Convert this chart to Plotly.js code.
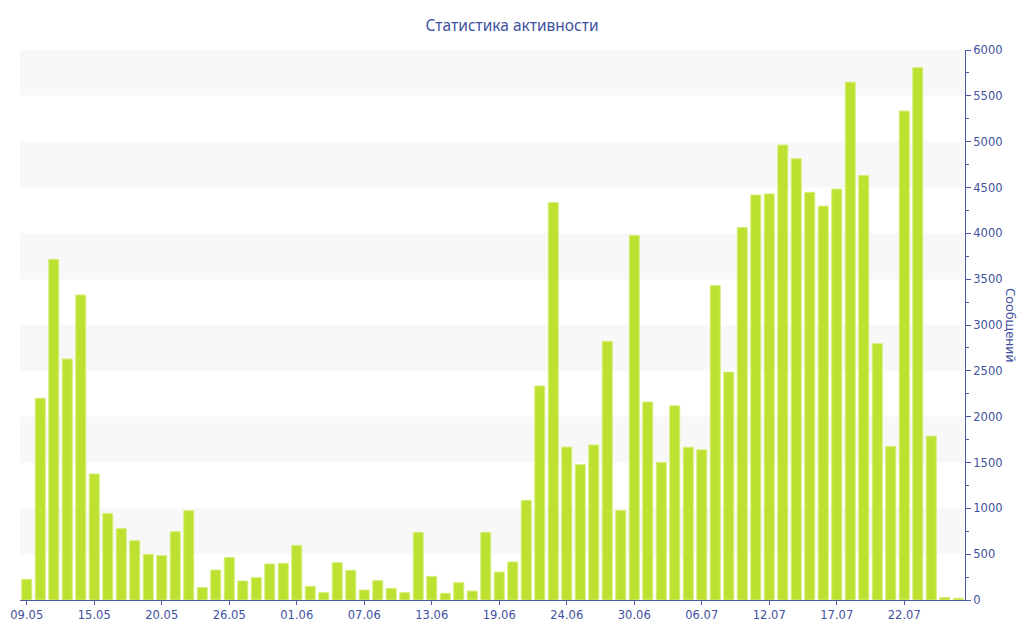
<!DOCTYPE html>
<html>
<head>
<meta charset="utf-8">
<script src="https://cdn.plot.ly/plotly-3.0.1.min.js"></script>
<style>
  html, body { margin: 0; padding: 0; background: #fff; }
  #chart { width: 1024px; height: 640px; }
</style>
</head>
<body>
<div id="chart"></div>
<script>
// Дни (ось X)
var dates = [
  "09.05","10.05","11.05","12.05","13.05",
  "15.05","16.05","17.05","18.05","19.05",
  "20.05","21.05","22.05","24.05","25.05",
  "26.05","27.05","28.05","30.05","31.05",
  "01.06","02.06","03.06","05.06","06.06",
  "07.06","08.06","09.06","11.06","12.06",
  "13.06","14.06","15.06","17.06","18.06",
  "19.06","20.06","21.06","22.06","23.06",
  "24.06","25.06","26.06","28.06","29.06",
  "30.06","01.07","02.07","04.07","05.07",
  "06.07","07.07","08.07","10.07","11.07",
  "12.07","13.07","14.07","15.07","16.07",
  "17.07","18.07","19.07","20.07","21.07",
  "22.07","23.07","24.07","25.07","26.07"
];

// Количество сообщений за день
var messages = [
  226, 2200, 3716, 2629, 3327, 1375, 945, 778, 647, 498,
  484, 745, 975, 135, 327, 462, 207, 244, 393, 400,
  596, 149, 80, 407, 324, 109, 211, 127, 80, 738,
  258, 73, 189, 98, 738, 305, 415, 1087, 2335, 4335,
  1669, 1476, 1691, 2822, 978, 3978, 2160, 1500, 2118, 1666,
  1638, 3430, 2486, 4063, 4418, 4430, 4963, 4814, 4447, 4297,
  4483, 5649, 4632, 2796, 1675, 5334, 5806, 1788, 28, 20
];

// Подписи на оси X
var tickDates = ["09.05","15.05","20.05","26.05","01.06","07.06","13.06",
                 "19.06","24.06","30.06","06.07","12.07","17.07","22.07"];

var textColor = "#3f51a0";
var axisColor = "#4a5aa6";

// полосы фона через одну
var bands = [];
for (var v = 500; v < 6000; v += 1000) {
  bands.push({
    type: "rect", xref: "paper", yref: "y",
    x0: 0, x1: 1, y0: v, y1: v + 500,
    fillcolor: "#f8f8f8", line: {width: 0}, layer: "below"
  });
}

var trace = {
  x: dates,
  y: messages,
  type: "bar",
  marker: {
    color: "rgb(188,225,48)",
    line: {color: "rgb(214,238,120)", width: 1}
  },
  hoverinfo: "x+y"
};

var layout = {
  width: 1024,
  height: 640,
  margin: {l: 20, r: 59, t: 50, b: 40},
  paper_bgcolor: "#ffffff",
  plot_bgcolor: "#ffffff",
  showlegend: false,
  bargap: 0.26,
  font: {family: "DejaVu Sans, Verdana, sans-serif", size: 11.5, color: textColor},
  title: {
    text: "Статистика активности",
    x: 0.5, xanchor: "center", y: 0.96, yanchor: "middle",
    font: {family: "Noto Sans, Open Sans, sans-serif", size: 15.5, color: textColor}
  },
  xaxis: {
    type: "category",
    tickmode: "array",
    tickvals: tickDates,
    ticktext: tickDates,
    showgrid: false,
    showline: true,
    linecolor: axisColor,
    linewidth: 1,
    ticks: "outside",
    ticklen: 4,
    tickcolor: axisColor,
    tickangle: 0,
    zeroline: false,
    fixedrange: true
  },
  yaxis: {
    side: "right",
    range: [0, 6000],
    dtick: 500,
    showgrid: false,
    zeroline: false,
    showline: true,
    linecolor: axisColor,
    linewidth: 1,
    ticks: "outside",
    ticklen: 5,
    tickcolor: axisColor,
    minor: {dtick: 250, ticks: "outside", ticklen: 3, tickcolor: axisColor, showgrid: false},
    fixedrange: true
  },
  shapes: bands,
  annotations: [{
    text: "Сообщений",
    xref: "paper", yref: "paper",
    x: 1, y: 0.5, xanchor: "center", yanchor: "middle",
    xshift: 46,
    showarrow: false, textangle: 90,
    font: {family: "Noto Sans, Open Sans, sans-serif", size: 13, color: textColor}
  }]
};

Plotly.newPlot("chart", [trace], layout, {displayModeBar: false, staticPlot: true});
</script>
</body>
</html>
